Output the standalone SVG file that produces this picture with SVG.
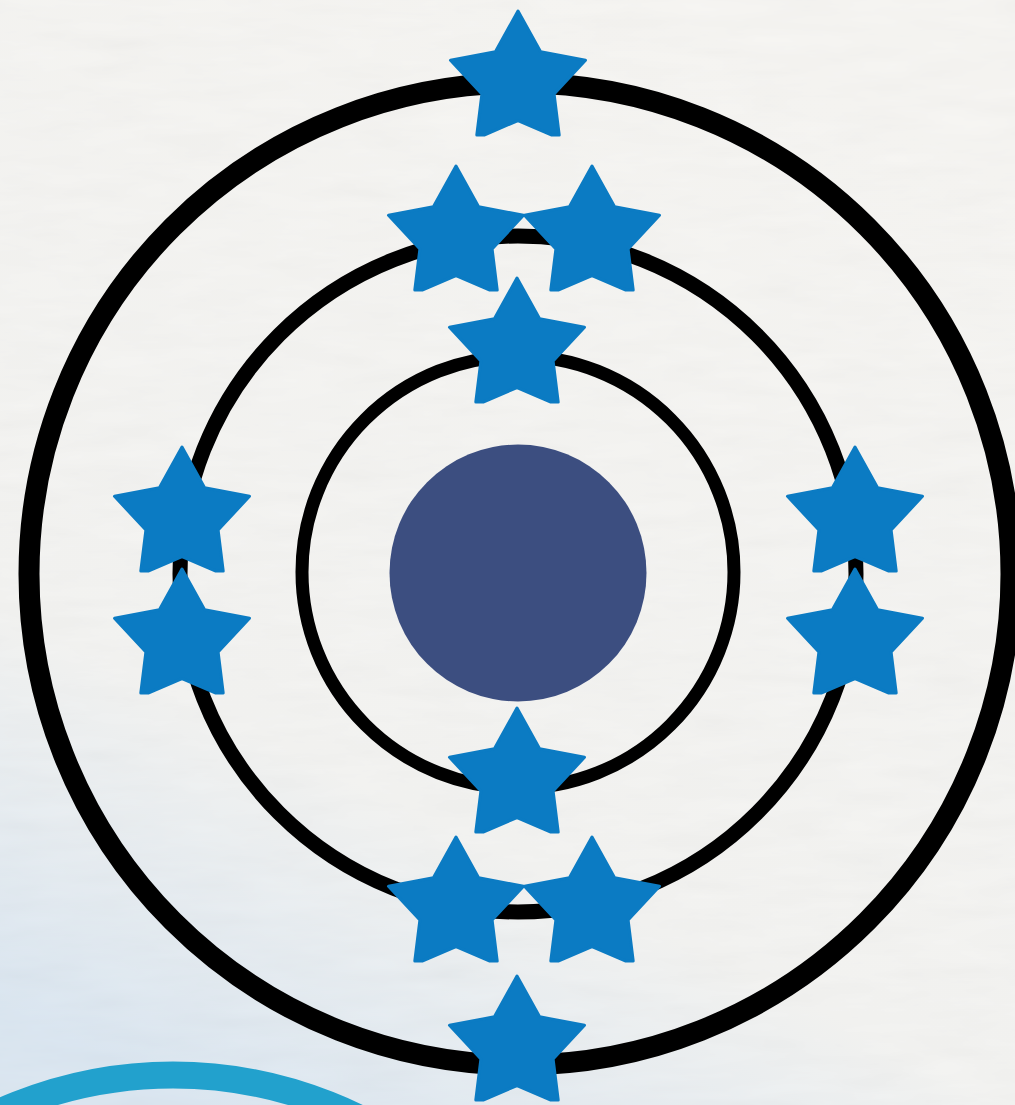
<svg xmlns="http://www.w3.org/2000/svg" width="1015" height="1105" viewBox="0 0 1015 1105">
  <defs>
    <linearGradient id="bg" x1="0.65" y1="0" x2="0.2" y2="1">
      <stop offset="0" stop-color="#f8f7f4"/>
      <stop offset="0.7" stop-color="#f5f5f3"/>
      <stop offset="1" stop-color="#dce8f3"/>
    </linearGradient>
    <filter id="paper" x="0" y="0" width="100%" height="100%">
      <feTurbulence type="fractalNoise" baseFrequency="0.012 0.06" numOctaves="4" seed="7"/>
      <feColorMatrix type="matrix" values="0.33 0.33 0.33 0 0  0.33 0.33 0.33 0 0  0.33 0.33 0.33 0 0  0 0 0 0 1"/>
    </filter>
    <path id="star" d="M0,-71 L22.6,-30.2 L67.5,-21.7 L36.1,11.9 L41.2,53 L33.8,53 L0,38.5 L-33.8,53 L-41.2,53 L-36.1,11.9 L-67.5,-21.7 L-22.6,-30.2 Z"/>
    <style>
      .ring { fill: none; stroke: #000000; }
      .electron { fill: #0b7bc3; stroke: #0b7bc3; stroke-width: 3; stroke-linejoin: round; }
      .nucleus { fill: #3c4e80; }
      .arc { fill: none; stroke: #22a1cd; stroke-width: 27; }
    </style>
  </defs>

  <g id="background">
    <rect x="0" y="0" width="1015" height="1105" fill="url(#bg)"/>
    <rect x="0" y="0" width="1015" height="1105" filter="url(#paper)" opacity="0.06"/>
  </g>

  <g id="corner-arc">
    <circle class="arc" cx="173" cy="1497" r="422"/>
  </g>

  <g id="shells">
    <circle id="shell-3" class="ring" cx="520" cy="574" r="491" stroke-width="21"/>
    <circle id="shell-2" class="ring" cx="518" cy="574" r="338" stroke-width="15"/>
    <circle id="shell-1" class="ring" cx="518" cy="572" r="216" stroke-width="13"/>
  </g>

  <g id="nucleus">
    <circle class="nucleus" cx="518" cy="573" r="128.5"/>
  </g>

  <g id="electrons">
    <g id="e-shell1-top"><use href="#star" class="electron" x="517" y="349"/></g>
    <g id="e-shell1-bottom"><use href="#star" class="electron" x="517" y="779"/></g>
    <g id="e-shell2-top-left"><use href="#star" class="electron" x="456" y="237"/></g>
    <g id="e-shell2-top-right"><use href="#star" class="electron" x="592" y="237"/></g>
    <g id="e-shell2-left-upper"><use href="#star" class="electron" x="182" y="518"/></g>
    <g id="e-shell2-left-lower"><use href="#star" class="electron" x="182" y="640"/></g>
    <g id="e-shell2-right-upper"><use href="#star" class="electron" x="855" y="518"/></g>
    <g id="e-shell2-right-lower"><use href="#star" class="electron" x="855" y="640"/></g>
    <g id="e-shell2-bottom-left"><use href="#star" class="electron" x="456" y="908"/></g>
    <g id="e-shell2-bottom-right"><use href="#star" class="electron" x="592" y="908"/></g>
    <g id="e-shell3-top"><use href="#star" class="electron" x="518" y="82"/></g>
    <g id="e-shell3-bottom"><use href="#star" class="electron" x="517" y="1047"/></g>
  </g>
</svg>
